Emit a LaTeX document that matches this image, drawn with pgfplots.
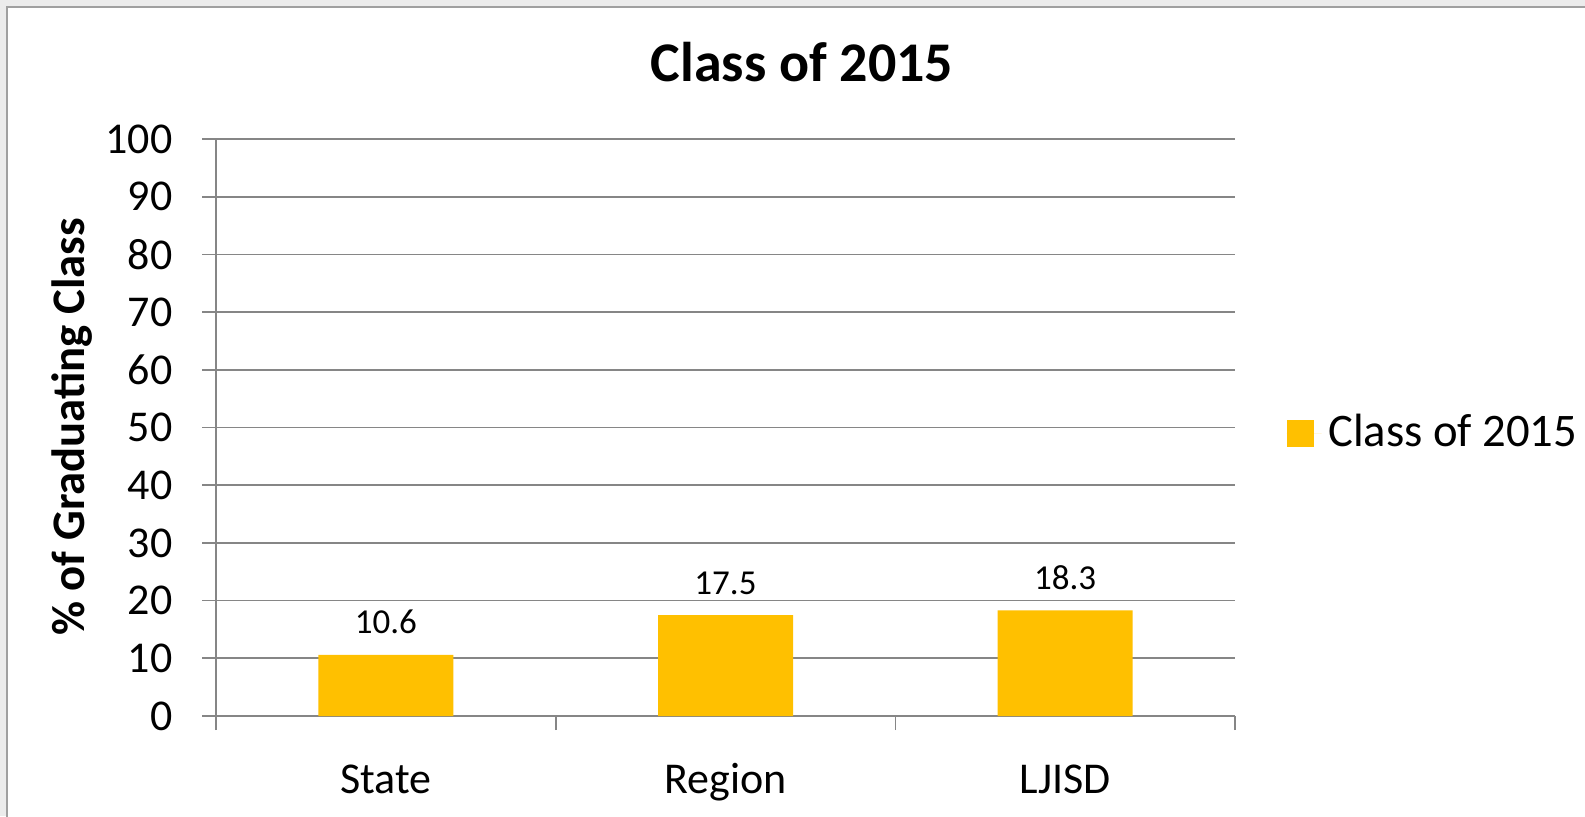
\documentclass[border=0pt]{standalone}
\usepackage{pgfplots}
\pgfplotsset{compat=1.18}
\usepackage{fontspec}
\setmainfont{Carlito}
\definecolor{bargold}{HTML}{FFC000}
\definecolor{gridgray}{HTML}{868686}
\definecolor{framegray}{HTML}{A0A0A0}
\definecolor{bggray}{HTML}{ECECEC}
\begin{document}
\begin{tikzpicture}
\useasboundingbox (0,0) rectangle (475.5pt,244.8pt);
\fill[bggray] (0,0) rectangle (475.5pt,244.8pt);
\filldraw[fill=white, draw=framegray, line width=0.5pt] (2.1pt,-5pt) rectangle (480pt,242.7pt);
\begin{axis}[
  at={(64.8pt,30pt)}, anchor=south west,
  width=305.7pt, height=173.1pt, scale only axis,
  ybar, bar width=40.5pt,
  xmin=-0.5, xmax=2.5, ymin=0, ymax=100,
  ytick={0,10,...,100},
  xtick={-0.5,0.5,1.5,2.5}, xticklabels={,,,},
  extra x ticks={0,1,2}, extra x tick labels={State,Region,LJISD},
  extra x tick style={major tick length=0pt},
  major tick length=4.2pt, tick align=outside,
  tick style={draw=gridgray, line width=0.5pt},
  axis x line*=bottom, axis y line*=left,
  axis line style={draw=gridgray, line width=0.5pt, -},
  ymajorgrids, grid style={draw=gridgray, line width=0.5pt},
  /pgf/number format/assume math mode=true,
  tick label style={font=\fontsize{13.2}{15}\selectfont},
  yticklabel style={anchor=east, inner sep=0pt, xshift=-8.7pt},
  xticklabel style={anchor=base, inner sep=0pt, yshift=-23.2pt},
  every axis title shift=0pt,
  title={\textbf{Class of 2015}},
  title style={at={(axis description cs:0.575,1.1005)}, anchor=base, inner sep=0pt, font=\fontsize{16.8}{20}\selectfont},
  ylabel={\textbf{\% of Graduating Class}},
  ylabel style={at={(axis description cs:-0.1295,0.501)}, anchor=base, inner sep=0pt, font=\fontsize{14}{16}\selectfont},
  nodes near coords={\pgfmathprintnumber[fixed,fixed zerofill,precision=1]{\pgfplotspointmeta}},
  nodes near coords style={font=\fontsize{10.5}{12}\selectfont, anchor=base, inner sep=0pt, yshift=6.3pt, text=black},
  legend style={at={(axis description cs:1.050,0.490)}, anchor=west, draw=none, fill=none, inner sep=0pt,
    font=\fontsize{14}{16}\selectfont, legend cell align=left},
  clip=false,
]
\addplot[fill=bargold, draw=none,
  legend image code/.code={\fill[bargold] (0pt,-4.05pt) rectangle (8.1pt,4.05pt); \path (0pt,0pt) -- (10.5pt,0pt);}]
  coordinates {(0,10.6) (1,17.5) (2,18.3)};
\addlegendentry{Class of 2015}
\end{axis}
\end{tikzpicture}
\end{document}
